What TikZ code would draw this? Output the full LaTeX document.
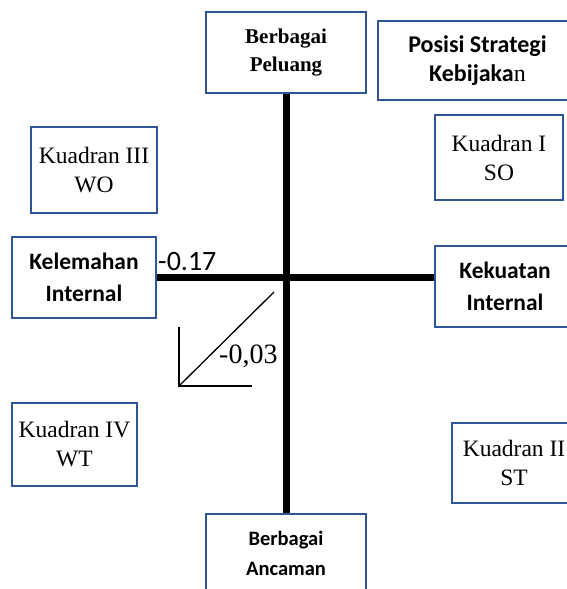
\documentclass[tikz,border=0pt]{standalone}
\usepackage{fontspec}
\setmainfont{Liberation Serif}
\newfontfamily\calibri{Carlito}
\definecolor{biru}{RGB}{47,85,151}
\tikzset{
  kotak/.style={draw=biru, line width=1.5pt, inner sep=0pt, align=center},
  judul/.style={font=\calibri\bfseries\fontsize{23.5}{32}\selectfont},
  kuadran/.style={font=\fontsize{23.5}{29}\selectfont},
  sumbu/.style={line width=7pt},
}
\begin{document}
\begin{tikzpicture}[x=1pt,y=-1pt,line cap=butt,line join=miter]
\useasboundingbox (0,0) rectangle (566,589);
% kotak atas dan bawah
\node[kotak, minimum width=160, minimum height=81,
  font=\bfseries\fontsize{21}{28}\selectfont] (peluang) at (286,52.5) {Berbagai\\Peluang};
\node[kotak, minimum width=160, minimum height=78,
  font=\calibri\bfseries\fontsize{20.5}{30}\selectfont] (ancaman) at (286,553) {Berbagai\\Ancaman};
\node[kotak, judul, minimum width=199, minimum height=79,
  font=\calibri\bfseries\fontsize{24}{29}\selectfont] (posisi) at (477.5,60.5) {Posisi Strategi\\Kebijaka{\normalfont\mdseries n}};
% kotak kiri dan kanan
\node[kotak, judul, minimum width=144, minimum height=81] (kelemahan) at (84,277.5) {Kelemahan\\Internal};
\node[kotak, judul, minimum width=140, minimum height=81] (kekuatan) at (505,286.5) {Kekuatan\\Internal};
% kuadran
\node[kotak, kuadran, minimum width=126, minimum height=86] (k3) at (94,170) {Kuadran III\\WO};
\node[kotak, kuadran, minimum width=128, minimum height=85] (k1) at (499,157.5) {Kuadran I\\SO};
\node[kotak, kuadran, minimum width=125, minimum height=83] (k4) at (74.5,444.5) {Kuadran IV\\WT};
\node[kotak, kuadran, minimum width=124, minimum height=80] (k2) at (514,463) {Kuadran II\\ST};
% sumbu
\draw[sumbu] (peluang) -- (ancaman);
\draw[sumbu] (kelemahan.east) -- (kelemahan.east -| kekuatan.west);
\node[anchor=base west, inner sep=0pt, font=\calibri\fontsize{28}{30}\selectfont] (nx) at (158,270) {-0.17};
% sumbu kecil
\coordinate (o) at (179,386);
\draw[line width=1.3pt] (179,327) -- (o) -- (252,386);
\draw[line width=1.3pt] (o) -- (274,292);
\node[anchor=base west, inner sep=0pt, font=\fontsize{28}{30}\selectfont] (ny) at (219,363) {-0,03};
\end{tikzpicture}
\end{document}
